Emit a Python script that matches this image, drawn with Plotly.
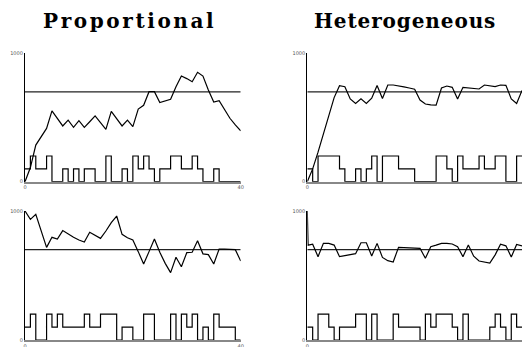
import plotly.graph_objects as go

# ---------------- data ----------------
T = list(range(41))
TARGET = 700
TARGET_X = [0, 40]

prop_top_line = [0, 110, 285, 355, 415, 552, 494, 434, 480, 423, 475, 423, 467, 512, 460, 408,
                 548, 491, 434, 480, 429, 566, 595, 701, 701, 616, 629, 642, 740, 823, 803, 779,
                 852, 823, 714, 621, 631, 558, 494, 442, 397]
prop_top_step = [100, 200, 100, 100, 200, 0, 0, 100, 0, 100, 0, 100, 100, 0, 0, 200,
                 0, 0, 100, 0, 200, 100, 200, 100, 0, 100, 100, 200, 200, 100, 100, 200,
                 100, 0, 0, 100, 0, 0, 0, 0, 0]

het_top_line = [0, 100, 230, 372, 515, 655, 748, 740, 645, 610, 645, 610, 650, 750, 648, 753,
                753, 748, 738, 730, 720, 636, 605, 598, 596, 730, 745, 735, 645, 735, 730, 727,
                722, 753, 745, 740, 753, 750, 645, 609, 710]
het_top_step = [100, 0, 200, 200, 200, 200, 100, 0, 0, 100, 0, 100, 200, 0, 200, 200,
                200, 100, 100, 100, 0, 0, 0, 0, 200, 200, 100, 0, 200, 100, 100, 100,
                200, 100, 100, 200, 200, 0, 0, 200, 200]

prop_bot_line = [1000, 935, 974, 853, 718, 796, 783, 848, 819, 796, 775, 760, 835, 809, 788, 845,
                 910, 961, 819, 793, 775, 685, 589, 685, 783, 680, 594, 522, 641, 568, 677, 680,
                 770, 668, 662, 589, 705, 705, 705, 700, 613]
prop_bot_step = [100, 200, 0, 0, 200, 100, 200, 100, 100, 100, 100, 200, 100, 100, 200, 200,
                 200, 0, 100, 100, 0, 0, 200, 200, 0, 0, 0, 200, 0, 200, 100, 200,
                 0, 100, 0, 200, 100, 100, 100, 0, 0]

het_bot_t = [0, 0.15] + list(range(1, 41))
het_bot_line = [1000, 735, 742, 646, 749, 749, 736, 646, 654, 662, 669, 754, 754, 651, 749, 640,
                615, 605, 718, 716, 713, 711, 711, 633, 723, 735, 749, 749, 744, 723, 646, 736,
                650, 612, 602, 597, 660, 742, 730, 643, 740, 730]
het_bot_step = [100, 0, 200, 200, 100, 0, 100, 100, 100, 200, 200, 0, 200, 0, 0, 0,
                200, 100, 100, 100, 100, 0, 200, 100, 200, 200, 200, 100, 0, 200, 0, 0,
                0, 0, 100, 200, 100, 0, 200, 100, 100]

TITLES = ["Proportional", "Heterogeneous"]
X_TICKS = [0, 40]
Y_TICKS = [0, 1000]

panels = [
    (T, prop_top_line, prop_top_step),
    (T, het_top_line, het_top_step),
    (T, prop_bot_line, prop_bot_step),
    (het_bot_t, het_bot_line, het_bot_step),
]

W, H = 524, 347
x_domains = [[25 / W, 240.7 / W], [307.3 / W, 522 / W]]
y_domains = [[(H - 181.7) / H, (H - 53.3) / H], [(H - 340) / H, (H - 211) / H]]

fig = go.Figure()
LINE_W = 1.2
for i, (tx, line, step) in enumerate(panels):
    n = i + 1
    xa = "x" if n == 1 else f"x{n}"
    ya = "y" if n == 1 else f"y{n}"
    fig.add_trace(go.Scatter(x=T, y=step, mode="lines", line=dict(color="black", width=LINE_W, shape="hv"),
                             xaxis=xa, yaxis=ya, showlegend=False, hoverinfo="skip"))
    fig.add_trace(go.Scatter(x=TARGET_X, y=[TARGET, TARGET], mode="lines",
                             line=dict(color="#222", width=LINE_W),
                             xaxis=xa, yaxis=ya, showlegend=False, hoverinfo="skip"))
    fig.add_trace(go.Scatter(x=tx, y=line, mode="lines", line=dict(color="black", width=LINE_W),
                             xaxis=xa, yaxis=ya, showlegend=False, hoverinfo="skip"))

tickfont = dict(family="DejaVu Sans", size=5, color="#555")
layout = dict(width=W, height=H, margin=dict(l=0, r=0, t=0, b=0, autoexpand=False),
              paper_bgcolor="white", plot_bgcolor="white", showlegend=False)
for i in range(4):
    n = i + 1
    col = i % 2
    row = i // 2
    xk = "xaxis" if n == 1 else f"xaxis{n}"
    yk = "yaxis" if n == 1 else f"yaxis{n}"
    ya = "y" if n == 1 else f"y{n}"
    xa = "x" if n == 1 else f"x{n}"
    layout[xk] = dict(domain=x_domains[col], range=[0, 40], anchor=ya, showgrid=False, zeroline=False,
                      showline=True, linecolor="#888", linewidth=1.5, tickvals=X_TICKS, ticks="",
                      tickfont=tickfont, fixedrange=True, automargin=False)
    layout[yk] = dict(domain=y_domains[row], range=[0, 1000], anchor=xa, showgrid=False, zeroline=False,
                      showline=True, linecolor="black", linewidth=1.2, tickvals=Y_TICKS, ticks="",
                      tickfont=tickfont, fixedrange=True, automargin=False)

fig.update_layout(**layout)

TITLE_SPACING = ["2.6px", "0.9px"]
for title, xc, ls in zip(TITLES, [129 / W, 405 / W], TITLE_SPACING):
    fig.add_annotation(text=f'<span style="letter-spacing:{ls}">{title}</span>',
                       x=xc, y=(H - 21) / H, xref="paper", yref="paper",
                       showarrow=False, xanchor="center", yanchor="middle",
                       font=dict(family="DejaVu Serif", size=20, color="black", weight="bold"))

fig.write_html("out.html", config={"displayModeBar": False},
               post_script="document.body.style.margin='0px';document.body.style.overflow='hidden';")
